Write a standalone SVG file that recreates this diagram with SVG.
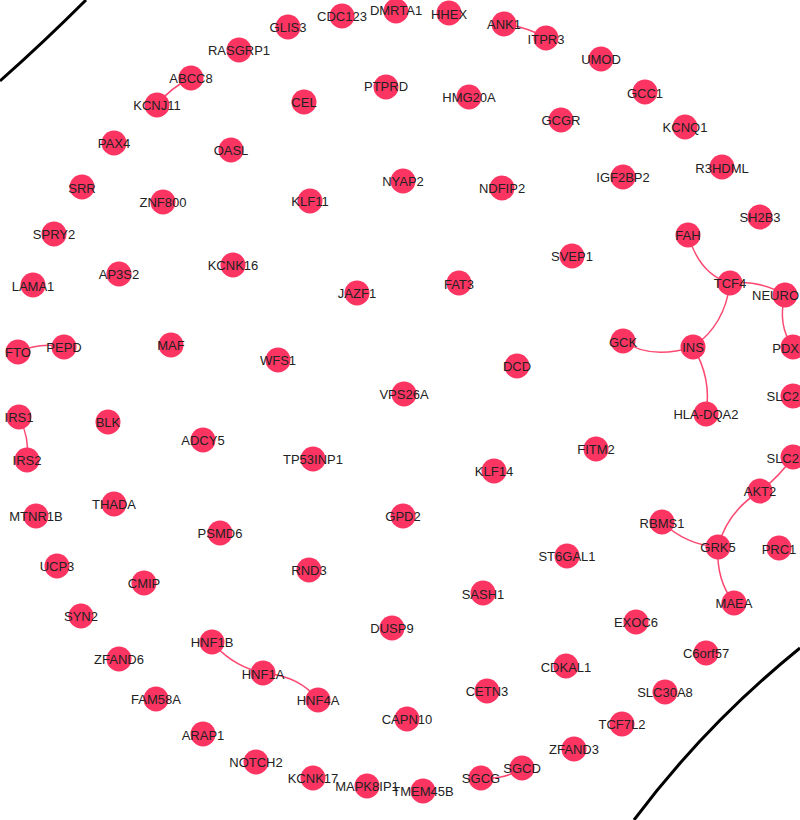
<svg xmlns="http://www.w3.org/2000/svg" width="800" height="820" viewBox="0 0 800 820">
<style>
.n circle{fill:#fc3462;}
.n text{font-family:"Liberation Sans",Arial,sans-serif;font-size:13px;fill:#222;text-anchor:middle;}
.n text.s{text-anchor:end;}
.e path{fill:none;stroke:#fc3462;stroke-width:1.5;stroke-opacity:0.9;}
.b{fill:none;stroke:#000;stroke-width:3;}
</style>
<rect width="800" height="820" fill="#fff"/>
<path class="b" d="M0,81 Q44,42 86,0"/>
<path class="b" d="M800,648 Q705,725 634,820"/>
<g id="edges" class="e">
<path d="M191,78 Q170,88 157,105"/>
<path d="M504,24 Q527,27 546,38"/>
<path d="M18,352 Q40,342 64,347"/>
<path d="M19,417 Q30,438 27,460"/>
<path d="M212,642 Q232,666 263,673"/>
<path d="M263,673 Q300,676 318,700"/>
<path d="M481,778 Q505,780 522,768"/>
<path d="M688,235 Q700,275 730,283"/>
<path d="M730,283 Q760,280 785,295"/>
<path d="M785,295 Q777,325 793,347"/>
<path d="M730,283 Q725,325 693,347"/>
<path d="M693,347 Q650,360 623,341"/>
<path d="M693,347 Q712,378 706,414"/>
<path d="M793,457 Q778,478 760,491"/>
<path d="M760,491 Q727,512 718,547"/>
<path d="M718,547 Q686,545 662,522"/>
<path d="M718,547 Q716,580 734,603"/>
</g>
<g id="GLIS3" class="n"><circle cx="288" cy="27" r="12.5"/><text x="288" y="27" dy="0.35em">GLIS3</text></g>
<g id="CDC123" class="n"><circle cx="342" cy="16" r="12.5"/><text x="342" y="16" dy="0.35em">CDC123</text></g>
<g id="DMRTA1" class="n"><circle cx="396" cy="11" r="12.5"/><text x="396" y="10" dy="0.35em">DMRTA1</text></g>
<g id="HHEX" class="n"><circle cx="449" cy="13" r="12.5"/><text x="449" y="14" dy="0.35em">HHEX</text></g>
<g id="ANK1" class="n"><circle cx="504" cy="24" r="12.5"/><text x="504" y="24" dy="0.35em">ANK1</text></g>
<g id="ITPR3" class="n"><circle cx="546" cy="38" r="12.5"/><text x="546" y="39" dy="0.35em">ITPR3</text></g>
<g id="UMOD" class="n"><circle cx="601" cy="59" r="12.5"/><text x="601" y="59" dy="0.35em">UMOD</text></g>
<g id="GCC1" class="n"><circle cx="645" cy="92" r="12.5"/><text x="645" y="93" dy="0.35em">GCC1</text></g>
<g id="KCNQ1" class="n"><circle cx="685" cy="127" r="12.5"/><text x="685" y="127" dy="0.35em">KCNQ1</text></g>
<g id="R3HDML" class="n"><circle cx="722" cy="167" r="12.5"/><text x="722" y="168" dy="0.35em">R3HDML</text></g>
<g id="SH2B3" class="n"><circle cx="760" cy="217" r="12.5"/><text x="760" y="217" dy="0.35em">SH2B3</text></g>
<g id="RASGRP1" class="n"><circle cx="239" cy="50" r="12.5"/><text x="239" y="50" dy="0.35em">RASGRP1</text></g>
<g id="ABCC8" class="n"><circle cx="191" cy="78" r="12.5"/><text x="191" y="78" dy="0.35em">ABCC8</text></g>
<g id="KCNJ11" class="n"><circle cx="157" cy="105" r="12.5"/><text x="157" y="105" dy="0.35em">KCNJ11</text></g>
<g id="PAX4" class="n"><circle cx="114" cy="143" r="12.5"/><text x="114" y="143" dy="0.35em">PAX4</text></g>
<g id="SRR" class="n"><circle cx="82" cy="187" r="12.5"/><text x="82" y="188" dy="0.35em">SRR</text></g>
<g id="SPRY2" class="n"><circle cx="54" cy="234" r="12.5"/><text x="54" y="234" dy="0.35em">SPRY2</text></g>
<g id="LAMA1" class="n"><circle cx="33" cy="285" r="12.5"/><text x="33" y="286" dy="0.35em">LAMA1</text></g>
<g id="FTO" class="n"><circle cx="18" cy="352" r="12.5"/><text x="18" y="352" dy="0.35em">FTO</text></g>
<g id="PEPD" class="n"><circle cx="64" cy="347" r="12.5"/><text x="64" y="347" dy="0.35em">PEPD</text></g>
<g id="IRS1" class="n"><circle cx="19" cy="417" r="12.5"/><text x="19" y="417" dy="0.35em">IRS1</text></g>
<g id="IRS2" class="n"><circle cx="27" cy="460" r="12.5"/><text x="27" y="460" dy="0.35em">IRS2</text></g>
<g id="MTNR1B" class="n"><circle cx="36" cy="516" r="12.5"/><text x="36" y="516" dy="0.35em">MTNR1B</text></g>
<g id="UCP3" class="n"><circle cx="57" cy="566" r="12.5"/><text x="57" y="566" dy="0.35em">UCP3</text></g>
<g id="SYN2" class="n"><circle cx="81" cy="616" r="12.5"/><text x="81" y="616" dy="0.35em">SYN2</text></g>
<g id="ZFAND6" class="n"><circle cx="119" cy="659" r="12.5"/><text x="119" y="659" dy="0.35em">ZFAND6</text></g>
<g id="FAM58A" class="n"><circle cx="156" cy="699" r="12.5"/><text x="156" y="699" dy="0.35em">FAM58A</text></g>
<g id="ARAP1" class="n"><circle cx="203" cy="734" r="12.5"/><text x="203" y="735" dy="0.35em">ARAP1</text></g>
<g id="NOTCH2" class="n"><circle cx="256" cy="762" r="12.5"/><text x="256" y="762" dy="0.35em">NOTCH2</text></g>
<g id="KCNK17" class="n"><circle cx="313" cy="778" r="12.5"/><text x="313" y="778" dy="0.35em">KCNK17</text></g>
<g id="MAPK8IP1" class="n"><circle cx="367" cy="786" r="12.5"/><text x="367" y="786" dy="0.35em">MAPK8IP1</text></g>
<g id="TMEM45B" class="n"><circle cx="423" cy="791" r="12.5"/><text x="423" y="791" dy="0.35em">TMEM45B</text></g>
<g id="SGCG" class="n"><circle cx="481" cy="778" r="12.5"/><text x="481" y="778" dy="0.35em">SGCG</text></g>
<g id="SGCD" class="n"><circle cx="522" cy="768" r="12.5"/><text x="522" y="768" dy="0.35em">SGCD</text></g>
<g id="ZFAND3" class="n"><circle cx="574" cy="749" r="12.5"/><text x="574" y="749" dy="0.35em">ZFAND3</text></g>
<g id="TCF7L2" class="n"><circle cx="622" cy="724" r="12.5"/><text x="622" y="724" dy="0.35em">TCF7L2</text></g>
<g id="SLC30A8" class="n"><circle cx="665" cy="692" r="12.5"/><text x="665" y="692" dy="0.35em">SLC30A8</text></g>
<g id="C6orf57" class="n"><circle cx="706" cy="653" r="12.5"/><text x="706" y="653" dy="0.35em">C6orf57</text></g>
<g id="MAEA" class="n"><circle cx="734" cy="603" r="12.5"/><text x="734" y="603" dy="0.35em">MAEA</text></g>
<g id="PRC1" class="n"><circle cx="779" cy="548" r="12.5"/><text x="779" y="549" dy="0.35em">PRC1</text></g>
<g id="GRK5" class="n"><circle cx="718" cy="547" r="12.5"/><text x="718" y="547" dy="0.35em">GRK5</text></g>
<g id="AKT2" class="n"><circle cx="760" cy="491" r="12.5"/><text x="760" y="491" dy="0.35em">AKT2</text></g>
<g id="SLC2-b" class="n"><circle cx="793" cy="457" r="12.5"/><text class="s" x="799" y="458" dy="0.35em">SLC2</text></g>
<g id="SLC2-a" class="n"><circle cx="793" cy="396" r="12.5"/><text class="s" x="799" y="396" dy="0.35em">SLC2</text></g>
<g id="PDX" class="n"><circle cx="793" cy="347" r="12.5"/><text class="s" x="799" y="348" dy="0.35em">PDX</text></g>
<g id="NEURO" class="n"><circle cx="785" cy="295" r="12.5"/><text class="s" x="799" y="295" dy="0.35em">NEURO</text></g>
<g id="TCF4" class="n"><circle cx="730" cy="283" r="12.5"/><text x="730" y="283" dy="0.35em">TCF4</text></g>
<g id="FAH" class="n"><circle cx="688" cy="235" r="12.5"/><text x="688" y="235" dy="0.35em">FAH</text></g>
<g id="INS" class="n"><circle cx="693" cy="347" r="12.5"/><text x="693" y="347" dy="0.35em">INS</text></g>
<g id="GCK" class="n"><circle cx="623" cy="341" r="12.5"/><text x="623" y="342" dy="0.35em">GCK</text></g>
<g id="HLA-DQA2" class="n"><circle cx="706" cy="414" r="12.5"/><text x="706" y="414" dy="0.35em">HLA-DQA2</text></g>
<g id="FITM2" class="n"><circle cx="596" cy="449" r="12.5"/><text x="596" y="449" dy="0.35em">FITM2</text></g>
<g id="RBMS1" class="n"><circle cx="662" cy="522" r="12.5"/><text x="662" y="523" dy="0.35em">RBMS1</text></g>
<g id="EXOC6" class="n"><circle cx="636" cy="622" r="12.5"/><text x="636" y="622" dy="0.35em">EXOC6</text></g>
<g id="CDKAL1" class="n"><circle cx="566" cy="666" r="12.5"/><text x="566" y="667" dy="0.35em">CDKAL1</text></g>
<g id="ST6GAL1" class="n"><circle cx="567" cy="556" r="12.5"/><text x="567" y="556" dy="0.35em">ST6GAL1</text></g>
<g id="CETN3" class="n"><circle cx="487" cy="691" r="12.5"/><text x="487" y="691" dy="0.35em">CETN3</text></g>
<g id="SASH1" class="n"><circle cx="483" cy="593" r="12.5"/><text x="483" y="594" dy="0.35em">SASH1</text></g>
<g id="DUSP9" class="n"><circle cx="392" cy="628" r="12.5"/><text x="392" y="628" dy="0.35em">DUSP9</text></g>
<g id="CAPN10" class="n"><circle cx="407" cy="719" r="12.5"/><text x="407" y="719" dy="0.35em">CAPN10</text></g>
<g id="HNF4A" class="n"><circle cx="318" cy="700" r="12.5"/><text x="318" y="700" dy="0.35em">HNF4A</text></g>
<g id="HNF1A" class="n"><circle cx="263" cy="673" r="12.5"/><text x="263" y="674" dy="0.35em">HNF1A</text></g>
<g id="HNF1B" class="n"><circle cx="212" cy="642" r="12.5"/><text x="212" y="642" dy="0.35em">HNF1B</text></g>
<g id="RND3" class="n"><circle cx="309" cy="570" r="12.5"/><text x="309" y="570" dy="0.35em">RND3</text></g>
<g id="GPD2" class="n"><circle cx="403" cy="516" r="12.5"/><text x="403" y="516" dy="0.35em">GPD2</text></g>
<g id="KLF14" class="n"><circle cx="494" cy="471" r="12.5"/><text x="494" y="471" dy="0.35em">KLF14</text></g>
<g id="TP53INP1" class="n"><circle cx="313" cy="459" r="12.5"/><text x="313" y="459" dy="0.35em">TP53INP1</text></g>
<g id="VPS26A" class="n"><circle cx="404" cy="394" r="12.5"/><text x="404" y="394" dy="0.35em">VPS26A</text></g>
<g id="DCD" class="n"><circle cx="517" cy="366" r="12.5"/><text x="517" y="366" dy="0.35em">DCD</text></g>
<g id="WFS1" class="n"><circle cx="278" cy="360" r="12.5"/><text x="278" y="360" dy="0.35em">WFS1</text></g>
<g id="JAZF1" class="n"><circle cx="357" cy="293" r="12.5"/><text x="357" y="293" dy="0.35em">JAZF1</text></g>
<g id="FAT3" class="n"><circle cx="459" cy="283" r="12.5"/><text x="459" y="284" dy="0.35em">FAT3</text></g>
<g id="PSMD6" class="n"><circle cx="220" cy="533" r="12.5"/><text x="220" y="533" dy="0.35em">PSMD6</text></g>
<g id="THADA" class="n"><circle cx="114" cy="504" r="12.5"/><text x="114" y="504" dy="0.35em">THADA</text></g>
<g id="ADCY5" class="n"><circle cx="203" cy="440" r="12.5"/><text x="203" y="440" dy="0.35em">ADCY5</text></g>
<g id="BLK" class="n"><circle cx="108" cy="422" r="12.5"/><text x="108" y="422" dy="0.35em">BLK</text></g>
<g id="MAF" class="n"><circle cx="171" cy="345" r="12.5"/><text x="171" y="345" dy="0.35em">MAF</text></g>
<g id="CMIP" class="n"><circle cx="144" cy="583" r="12.5"/><text x="144" y="583" dy="0.35em">CMIP</text></g>
<g id="AP3S2" class="n"><circle cx="119" cy="274" r="12.5"/><text x="119" y="274" dy="0.35em">AP3S2</text></g>
<g id="KCNK16" class="n"><circle cx="233" cy="265" r="12.5"/><text x="233" y="265" dy="0.35em">KCNK16</text></g>
<g id="ZNF800" class="n"><circle cx="163" cy="202" r="12.5"/><text x="163" y="202" dy="0.35em">ZNF800</text></g>
<g id="OASL" class="n"><circle cx="231" cy="150" r="12.5"/><text x="231" y="150" dy="0.35em">OASL</text></g>
<g id="CEL" class="n"><circle cx="304" cy="102" r="12.5"/><text x="304" y="102" dy="0.35em">CEL</text></g>
<g id="PTPRD" class="n"><circle cx="386" cy="87" r="12.5"/><text x="386" y="86" dy="0.35em">PTPRD</text></g>
<g id="HMG20A" class="n"><circle cx="469" cy="97" r="12.5"/><text x="469" y="97" dy="0.35em">HMG20A</text></g>
<g id="NYAP2" class="n"><circle cx="403" cy="181" r="12.5"/><text x="403" y="181" dy="0.35em">NYAP2</text></g>
<g id="NDFIP2" class="n"><circle cx="502" cy="188" r="12.5"/><text x="502" y="188" dy="0.35em">NDFIP2</text></g>
<g id="KLF11" class="n"><circle cx="310" cy="201" r="12.5"/><text x="310" y="201" dy="0.35em">KLF11</text></g>
<g id="GCGR" class="n"><circle cx="561" cy="120" r="12.5"/><text x="561" y="120" dy="0.35em">GCGR</text></g>
<g id="IGF2BP2" class="n"><circle cx="623" cy="177" r="12.5"/><text x="623" y="177" dy="0.35em">IGF2BP2</text></g>
<g id="SVEP1" class="n"><circle cx="572" cy="256" r="12.5"/><text x="572" y="256" dy="0.35em">SVEP1</text></g>
</svg>
